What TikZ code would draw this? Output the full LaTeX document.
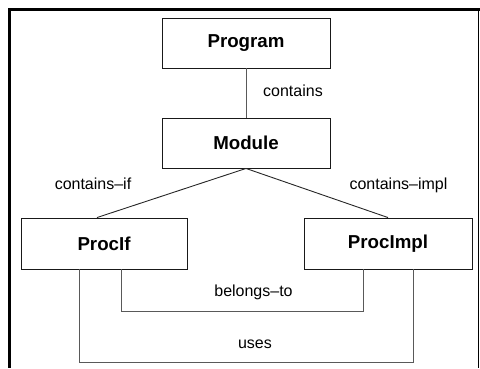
\documentclass[tikz,border=0pt]{standalone}
\usepackage{fontspec}
\setmainfont{Liberation Sans}
\begin{document}
\begin{tikzpicture}[x=1pt,y=-1pt,
  entity/.style={draw=black!90,line width=0.9pt,rectangle,minimum width=168pt,minimum height=50pt,inner sep=0pt,font=\fontsize{18.7}{20}\selectfont\bfseries},
  conn/.style={draw=black!65,line width=1pt},
  diag/.style={draw=black!85,line width=0.9pt},
  lbl/.style={anchor=base,inner sep=0pt,font=\fontsize{16}{18}\selectfont}]
\useasboundingbox (0,0) rectangle (480,368);
% frame
\draw[line width=3pt] (9.5,9.5) -- (480,9.5);
\draw[line width=3pt] (9.5,8) -- (9.5,368);
\draw[line width=1pt] (478.5,11) -- (478.5,368);
% nodes
\node[entity] (prog) at (246,43) {Program};
\node[entity] (mod) at (246,143) {Module};
\node[entity,minimum width=166pt,minimum height=51pt] (pif) at (104,243.5) {ProcIf};
\node[entity,minimum height=51pt] (pimpl) at (388,243.5) {ProcImpl};
% connectors
\draw[conn] (prog.south) -- (mod.north);
\draw[diag] (mod.south) -- ([xshift=-7pt]pif.north);
\draw[diag] (mod.south) -- (pimpl.north);
\draw[conn] ([xshift=17pt]pif.south) -- ++(0,42) coordinate (bt) -| ([xshift=-25pt]pimpl.south);
\draw[conn] ([xshift=-25pt]pif.south) -- ++(0,93) coordinate (us) -| ([xshift=25pt]pimpl.south);
% labels
\node[lbl,anchor=base west] (lc) at (263,96.5) {contains};
\node[lbl] (lcif) at (93,189) {contains–if};
\node[lbl] (lcimpl) at (398.5,189) {contains–impl};
\node[lbl] (lbt) at (253.5,296) {belongs–to};
\node[lbl] (lus) at (255,348) {uses};
\end{tikzpicture}
\end{document}
